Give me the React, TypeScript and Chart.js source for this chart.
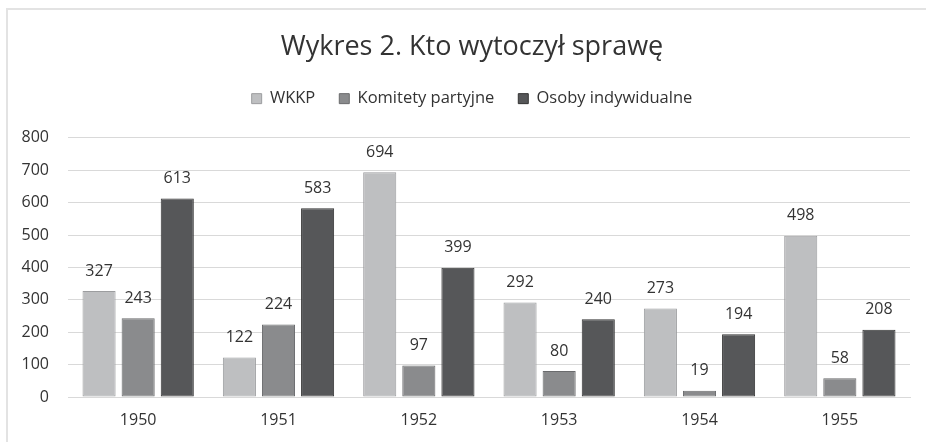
import React, { useEffect, useRef } from "react";
import { Chart, registerables } from "chart.js";

Chart.register(...registerables);

const categories = ["1950", "1951", "1952", "1953", "1954", "1955"];
const wkkp = [327, 122, 694, 292, 273, 498];
const komitety = [243, 224, 97, 80, 19, 58];
const osoby = [613, 583, 399, 240, 194, 208];
const yTicks = [0, 100, 200, 300, 400, 500, 600, 700, 800];

const FONT = "'Open Sans', Lato, sans-serif";
const TEXT = "#333333";
const HEADER_SHIFT = 34;

const frame = {
  id: "frame",
  afterInit(chart: any) {
    const lg = chart.legend;
    if (lg && !lg.__patched) {
      const orig = lg.fit;
      lg.fit = function (this: any) {
        orig.call(this);
        this.height += 21;
      };
      lg.__patched = true;
    }
  },
  afterLayout(chart: any) {
    [chart.titleBlock, chart.legend].forEach((b: any) => {
      if (b) {
        b.left = HEADER_SHIFT;
        b.width = b.right - b.left;
      }
    });
  },
  beforeDraw(chart: any) {
    const ctx = chart.ctx;
    ctx.save();
    ctx.fillStyle = "#ffffff";
    ctx.fillRect(0, 0, chart.width, chart.height);
    ctx.strokeStyle = "#e3e3e3";
    ctx.lineWidth = 2;
    ctx.beginPath();
    ctx.moveTo(7, chart.height);
    ctx.lineTo(7, 9);
    ctx.lineTo(chart.width, 9);
    ctx.stroke();
    ctx.restore();
  },
};

const valueLabels = {
  id: "valueLabels",
  afterDatasetsDraw(chart: any) {
    const ctx = chart.ctx;
    ctx.save();
    ctx.font = `16px ${FONT}`;
    ctx.fillStyle = TEXT;
    ctx.textAlign = "center";
    ctx.textBaseline = "middle";
    chart.data.datasets.forEach((ds: any, i: number) => {
      const meta = chart.getDatasetMeta(i);
      meta.data.forEach((el: any, j: number) => {
        ctx.fillText(String(ds.data[j]), el.x, el.y - 20);
      });
    });
    ctx.restore();
  },
};

export default function App() {
  const ref = useRef<HTMLCanvasElement>(null);
  useEffect(() => {
    document.body.style.margin = "0";
    const common = {
      borderWidth: 1,
      borderSkipped: false,
      categoryPercentage: 0.836,
      barPercentage: 0.846,
    };
    const chart = new Chart(ref.current!, {
      type: "bar",
      data: {
        labels: categories,
        datasets: [
          { label: "WKKP", data: wkkp, backgroundColor: "#bebfc1", borderColor: "#9c9d9f", ...common },
          { label: "Komitety partyjne", data: komitety, backgroundColor: "#8a8b8d", borderColor: "#6a6b6d", ...common },
          { label: "Osoby indywidualne", data: osoby, backgroundColor: "#565759", borderColor: "#333333", ...common },
        ],
      },
      options: {
        animation: false,
        responsive: false,
        layout: { padding: { left: 0, right: 16, top: 0, bottom: 0 } },
        plugins: {
          title: {
            display: true,
            text: "Wykres 2. Kto wytoczył sprawę",
            color: TEXT,
            font: { family: FONT, size: 27, weight: "normal" },
            padding: { top: 31, bottom: 3 },
          },
          legend: {
            labels: {
              color: TEXT,
              font: { family: FONT, size: 16.5 },
              boxWidth: 10,
              boxHeight: 10,
              padding: 24,
            },
          },
          tooltip: { enabled: false },
        },
        scales: {
          x: {
            afterFit(scale: any) {
              scale.height = 45;
            },
            grid: { display: false, drawTicks: false },
            border: { color: "#d9d9d9" },
            ticks: { color: TEXT, font: { family: FONT, size: 16 }, padding: 14 },
          },
          y: {
            min: 0,
            max: 800,
            afterFit(scale: any) {
              scale.width = 68;
            },
            afterBuildTicks(scale: any) {
              scale.ticks = yTicks.map((v) => ({ value: v }));
            },
            grid: { color: "#d9d9d9", drawTicks: false },
            border: { display: false },
            ticks: { color: TEXT, font: { family: FONT, size: 16 }, padding: 19 },
          },
        },
      },
      plugins: [frame, valueLabels],
    });
    return () => chart.destroy();
  }, []);
  return <canvas ref={ref} width={926} height={442} style={{ display: "block" }} />;
}
